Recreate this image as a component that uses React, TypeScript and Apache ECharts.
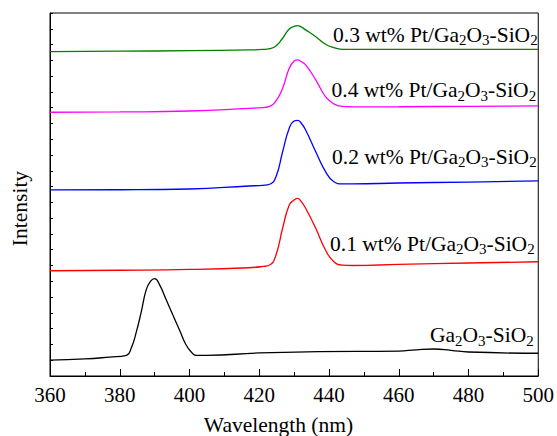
import React, { useEffect, useRef } from "react";
import * as echarts from "echarts";

const FONT = "serif";

// Wavelength grid (nm) for the Pt-loaded samples
const ptWavelengths = [360, 380, 400, 417, 421, 423, 424.8, 426.7, 428.6, 430, 431, 432, 433.3, 436.2, 439, 441.4, 443.8, 447, 460, 480, 500];
const pt03 = [20.55, 20.58, 20.61, 20.66, 20.69, 20.74, 20.91, 21.4, 21.99, 22.15, 22.2, 22.12, 21.93, 21.5, 21.02, 20.8, 20.7, 20.69, 20.7, 20.7, 20.7];
const pt04 = [16.71, 16.73, 16.79, 16.96, 17.01, 17.08, 17.43, 18.23, 19.5, 19.96, 20.03, 19.93, 19.71, 18.76, 17.7, 17.24, 17.08, 17.05, 17.06, 17.09, 17.11];
const pt02 = [11.79, 11.8, 11.85, 12.04, 12.08, 12.15, 12.63, 14.21, 15.7, 16.16, 16.2, 16.03, 15.59, 14.21, 12.95, 12.31, 12.17, 12.17, 12.23, 12.29, 12.36];
const pt01 = [6.67, 6.7, 6.75, 6.86, 6.94, 7.03, 7.67, 9.36, 10.84, 11.15, 11.26, 11.06, 10.63, 9.36, 7.98, 7.24, 7.03, 7.0, 7.07, 7.16, 7.24];

// Bare Ga2O3-SiO2
const gaWavelengths = [360, 370, 377.1, 381.9, 383.3, 384.8, 386.2, 387.6, 388.8, 390, 391.4, 393.3, 395.2, 397.1, 399, 400.5, 401.9, 404.8, 420, 437, 460, 465, 470, 475, 480, 500];
const gaSi = [1.01, 1.08, 1.2, 1.31, 1.77, 2.83, 4.1, 5.47, 6.0, 6.17, 5.79, 4.84, 3.88, 2.93, 1.98, 1.52, 1.31, 1.31, 1.46, 1.54, 1.58, 1.66, 1.71, 1.63, 1.52, 1.44];

const xTicks = { min: 360, max: 500, interval: 20 };

const seriesDefs = [
  { name: "Ga2O3-SiO2", x: gaWavelengths, y: gaSi, color: "#000000" },
  { name: "0.1 wt%", x: ptWavelengths, y: pt01, color: "#ff0000" },
  { name: "0.2 wt%", x: ptWavelengths, y: pt02, color: "#0000ff" },
  { name: "0.4 wt%", x: ptWavelengths, y: pt04, color: "#ff00ff" },
  { name: "0.3 wt%", x: ptWavelengths, y: pt03, color: "#008000" },
];

const labelDefs = [
  { pre: "0.3 wt% Pt/", x: 333, y: 34.5 },
  { pre: "0.4 wt% Pt/", x: 331.5, y: 90 },
  { pre: "0.2 wt% Pt/", x: 332, y: 156.5 },
  { pre: "0.1 wt% Pt/", x: 330, y: 243.5 },
  { pre: "", x: 430, y: 335 },
];

const rich = {
  a: { fontSize: 21.5, fontFamily: FONT, color: "#000", lineHeight: 26, verticalAlign: "middle" },
  s: { fontSize: 15, fontFamily: FONT, color: "#000", lineHeight: 26, verticalAlign: "bottom" },
};

export default function App() {
  const ref = useRef<HTMLDivElement>(null);
  useEffect(() => {
    if (!ref.current) return;
    const chart = echarts.init(ref.current, undefined, { renderer: "svg" });
    chart.setOption({
      animation: false,
      backgroundColor: "#fff",
      textStyle: { fontFamily: FONT },
      grid: { left: 50, right: 17, top: 13, bottom: 60, show: true, borderColor: "#000", borderWidth: 1 },
      xAxis: {
        type: "value",
        min: xTicks.min,
        max: xTicks.max,
        interval: xTicks.interval,
        axisLine: { show: true, lineStyle: { color: "#000", width: 1 } },
        axisTick: { show: true, inside: true, length: 7, lineStyle: { color: "#000" } },
        minorTick: { show: true, splitNumber: 2, length: 4, lineStyle: { color: "#000" } },
        splitLine: { show: false },
        axisLabel: { color: "#000", fontSize: 21, fontFamily: FONT, margin: 8 },
      },
      yAxis: {
        type: "value",
        min: 0,
        max: 23,
        interval: 1,
        axisLine: { show: true, lineStyle: { color: "#000", width: 1 } },
        axisTick: { show: true, inside: true, length: 3, lineStyle: { color: "#000" } },
        splitLine: { show: false },
        axisLabel: { show: false },
      },
      series: seriesDefs.map((s) => ({
        name: s.name,
        type: "line",
        data: s.x.map((xv, i) => [xv, s.y[i]]),
        showSymbol: false,
        symbol: "none",
        smooth: 0.5,
        lineStyle: { color: s.color, width: 1.3 },
        itemStyle: { color: s.color },
      })),
      graphic: [
        ...labelDefs.map((l) => ({
          type: "text",
          x: l.x,
          y: l.y,
          style: {
            text: `{a|${l.pre}Ga}{s|2}{a|O}{s|3}{a|-SiO}{s|2}`,
            rich,
            fontFamily: FONT,
            align: "left",
            verticalAlign: "middle",
          },
        })),
        {
          type: "text",
          x: 278.5,
          y: 425,
          style: { text: "Wavelength (nm)", fontSize: 21.5, fontFamily: FONT, fill: "#000", align: "center", verticalAlign: "middle" },
        },
        {
          type: "text",
          x: 20,
          y: 208.5,
          rotation: Math.PI / 2,
          style: { text: "Intensity", fontSize: 21.5, fontFamily: FONT, fill: "#000", align: "center", verticalAlign: "middle" },
        },
      ],
    });
    return () => chart.dispose();
  }, []);
  return <div ref={ref} style={{ position: "fixed", left: 0, top: 0, width: 557, height: 436 }} />;
}
